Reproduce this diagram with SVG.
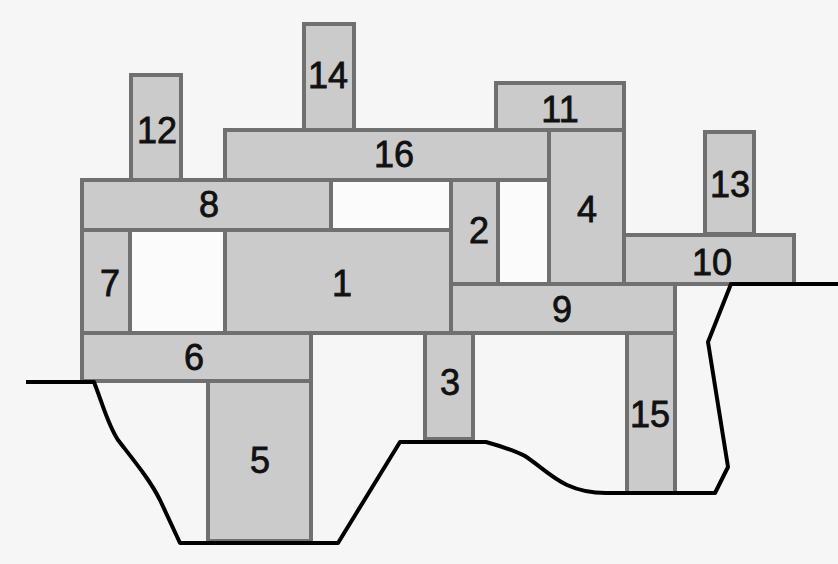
<svg xmlns="http://www.w3.org/2000/svg" width="838" height="564" viewBox="0 0 838 564">
<style>
.b{fill:#cbcbcb;stroke:#707070;stroke-width:4}
.w{fill:#fbfbfb;stroke:#707070;stroke-width:4}
.t{font-family:"Liberation Sans",Arial,sans-serif;font-size:36px;fill:#111;stroke:#111;stroke-width:0.8;text-anchor:middle}
.g{fill:none;stroke:#000;stroke-width:4;stroke-linejoin:round}
</style>
<rect width="838" height="564" fill="#f6f6f6"/>
<g id="empty">
<rect class="w" x="331" y="180" width="120" height="50"/>
<rect class="w" x="498" y="180" width="51" height="104"/>
<rect class="w" x="130" y="230" width="95" height="103"/>
</g>
<g id="n14"><rect class="b" x="304" y="24" width="50" height="106"/><text class="t" x="328" y="88">14</text></g>
<g id="n12"><rect class="b" x="131" y="75" width="50" height="105"/><text class="t" x="157" y="143">12</text></g>
<g id="n11"><rect class="b" x="496" y="83" width="128" height="47"/><text class="t" x="560" y="122">11</text></g>
<g id="n16"><rect class="b" x="225" y="130" width="324" height="50"/><text class="t" x="394" y="167">16</text></g>
<g id="n13"><rect class="b" x="705" y="132" width="49" height="102"/><text class="t" x="730" y="197">13</text></g>
<g id="n8"><rect class="b" x="82" y="180" width="249" height="50"/><text class="t" x="209" y="217">8</text></g>
<g id="n2"><rect class="b" x="451" y="180" width="47" height="104"/><text class="t" x="479" y="243">2</text></g>
<g id="n4"><rect class="b" x="549" y="130" width="75" height="154"/><text class="t" x="587" y="222">4</text></g>
<g id="n10"><rect class="b" x="624" y="235" width="170" height="49"/><text class="t" x="712" y="275">10</text></g>
<g id="n7"><rect class="b" x="82" y="230" width="48" height="103"/><text class="t" x="110" y="296">7</text></g>
<g id="n1"><rect class="b" x="225" y="230" width="226" height="103"/><text class="t" x="342" y="296">1</text></g>
<g id="n9"><rect class="b" x="451" y="284" width="224" height="49"/><text class="t" x="562" y="322">9</text></g>
<g id="n6"><rect class="b" x="82" y="333" width="229" height="48"/><text class="t" x="194" y="370">6</text></g>
<g id="n5"><rect class="b" x="208" y="381" width="103" height="160"/><text class="t" x="260" y="473">5</text></g>
<g id="n3"><rect class="b" x="425" y="333" width="48" height="106"/><text class="t" x="450" y="395">3</text></g>
<g id="n15"><rect class="b" x="627" y="333" width="48" height="160"/><text class="t" x="650" y="427">15</text></g>
<g id="ground">
<path class="g" d="M26,382 L94,382 C104,408 108,425 118,440 C135,462 150,480 160,500 L180,543 L338,543 L400,442 L486,442 C500,446 514,450 525,456 C540,466 552,478 567,485 C580,491 594,493 606,493 L715,493 L728,467 L708,342 L731,284 L838,284"/>
</g>
</svg>
